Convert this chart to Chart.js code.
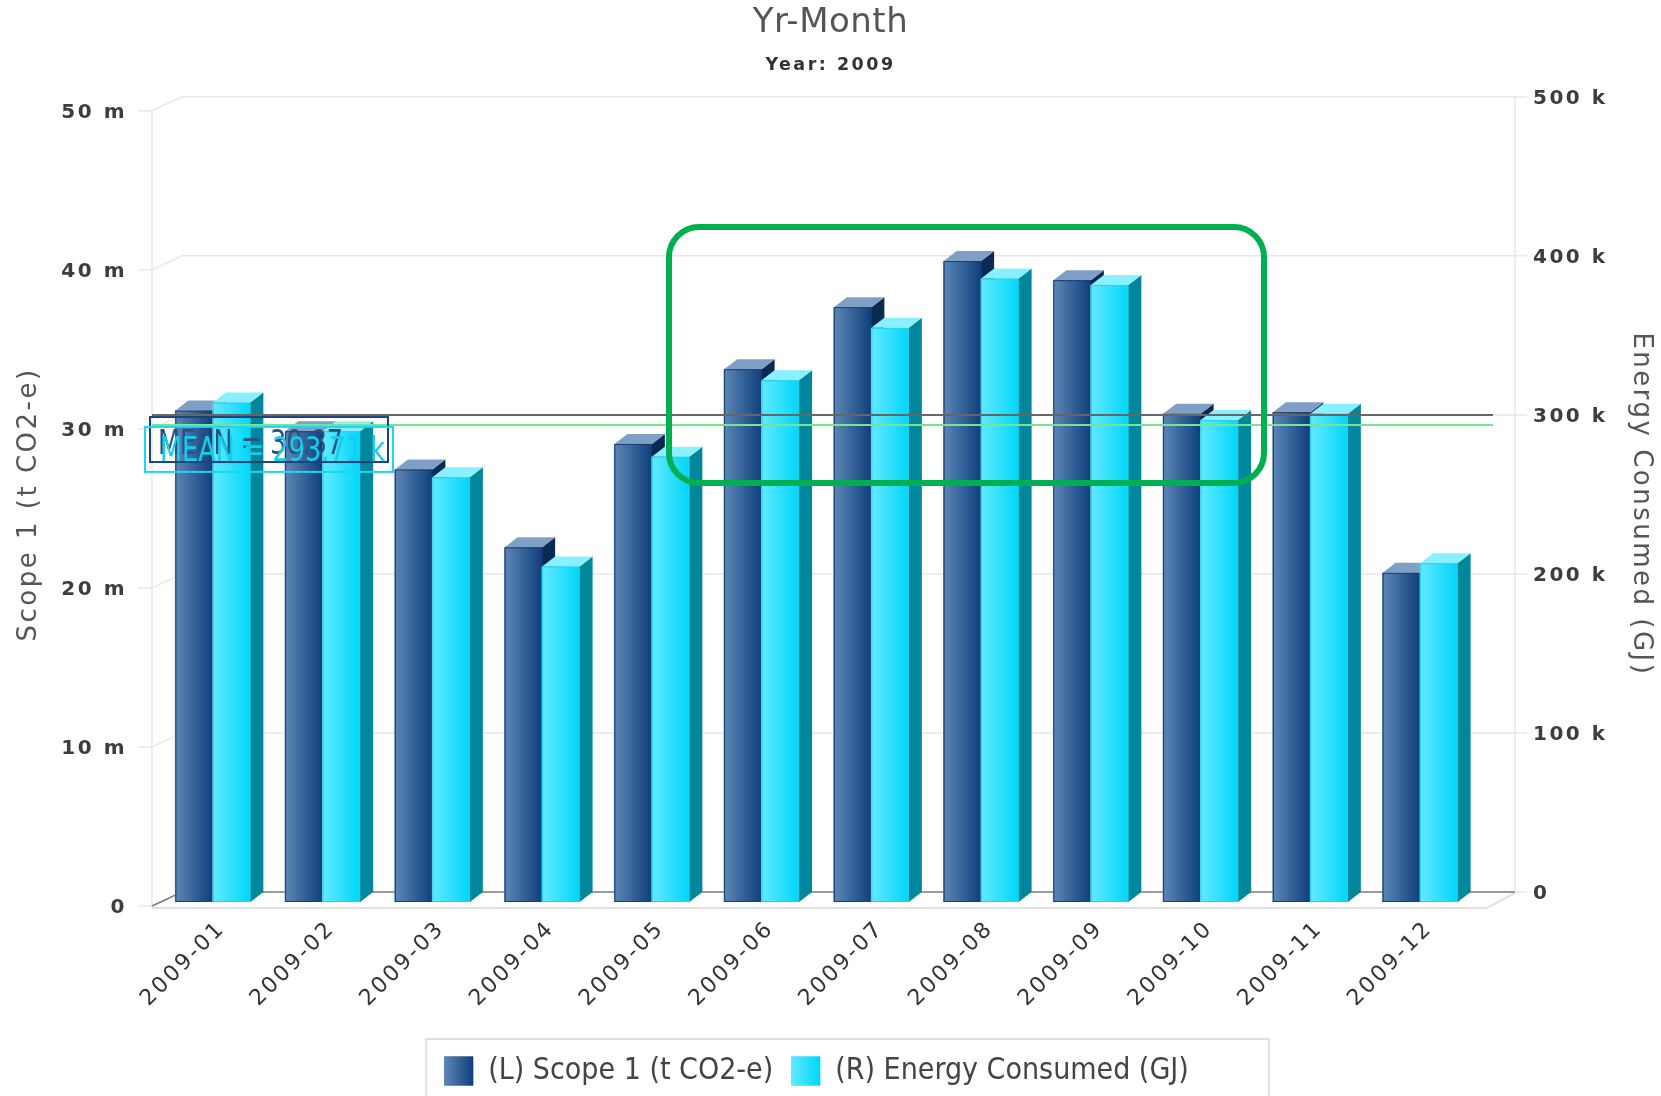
<!DOCTYPE html>
<html>
<head>
<meta charset="utf-8">
<title>Yr-Month</title>
<script src="https://cdn.jsdelivr.net/npm/chart.js@4.4.1/dist/chart.umd.min.js"></script>
<style>
  html, body { margin: 0; padding: 0; background: #ffffff; }
  #wrap { width: 1661px; height: 1096px; }
</style>
</head>
<body>
<div id="wrap"><canvas id="c" width="1661" height="1096"></canvas></div>
<script>
// Monthly figures for 2009
const months = ['2009-01', '2009-02', '2009-03', '2009-04', '2009-05', '2009-06',
                '2009-07', '2009-08', '2009-09', '2009-10', '2009-11', '2009-12'];
// (L) Scope 1, millions of t CO2-e
const scope1 = [30.9, 29.6, 27.2, 22.3, 28.8, 33.5, 37.4, 40.3, 39.1, 30.7, 30.8, 20.7];
// (R) Energy consumed, thousands of GJ
const energy = [314, 296, 267, 211, 280, 328, 361, 392, 388, 303, 307, 213];
// Reported means
const scope1Mean = 30.87;
const energyMean = 293.71;

const CONDENSED = "'DejaVu Sans Condensed', 'Liberation Sans Narrow', 'Liberation Sans', sans-serif";
const WIDE = "'DejaVu Sans', Verdana, sans-serif";
const SPACING = '2.5px';

// depth of each column and of the plot box
const BAR_DX = 13, BAR_DY = -10;
function box(ca) {
  return { fl: ca.left - 6, fr: ca.right + 12, fdy: 4, bl: ca.left + 24, br: ca.right + 40, bdy: -10 };
}

const faces = [
  { left: '#5d87b5', right: '#0e3e7c', top: '#7f9fc6', side: '#0a2a54', edge: '#163f73' },
  { left: '#62eaff', right: '#00d6fa', top: '#8af0ff', side: '#00879b', edge: '#22d2ee' }
];

// text squeezed horizontally to a given width
function fitText(ctx, text, x, y, size, width, color) {
  ctx.save();
  ctx.letterSpacing = '0px';
  ctx.font = size + 'px ' + WIDE;
  const w = ctx.measureText(text).width;
  ctx.translate(x, y);
  ctx.scale(width / w, 1);
  ctx.fillStyle = color;
  ctx.textBaseline = 'alphabetic';
  ctx.textAlign = 'left';
  ctx.fillText(text, 0, 0);
  ctx.restore();
}

// wrap a layout box so it draws with its own letter spacing
function withTracking(b, spacing) {
  if (!b || b._tracking) return;
  const draw = b.draw.bind(b);
  b.draw = function (area) {
    const c = this.ctx;
    const prev = c.letterSpacing;
    c.letterSpacing = spacing;
    draw(area);
    c.letterSpacing = prev;
  };
  b._tracking = spacing;
}

const frame3d = {
  id: 'frame3d',
  afterUpdate(chart) {
    withTracking(chart.legend, '0px');
    withTracking(chart.titleBlock, '0.5px');
  },
  beforeDraw(chart) {
    chart.ctx.letterSpacing = SPACING;
  },
  // plot box: side wall, back wall grid and floor
  beforeDatasetsDraw(chart) {
    const { ctx, chartArea: ca } = chart;
    const yL = chart.scales.yL;
    const f = box(ca);
    const y0 = yL.getPixelForValue(0);
    ctx.save();
    ctx.lineWidth = 1.5;
    ctx.strokeStyle = '#e8e8e8';
    yL.ticks.forEach(t => {
      const y = yL.getPixelForValue(t.value);
      ctx.beginPath();
      ctx.moveTo(f.fl - 14, y + f.fdy);
      ctx.lineTo(f.fl, y + f.fdy);
      if (t.value !== 0) {
        ctx.lineTo(f.bl, y + f.bdy);
        ctx.lineTo(f.br + 12, y + f.bdy);
      }
      ctx.stroke();
    });
    ctx.beginPath();
    ctx.moveTo(f.br, y0 + f.bdy); ctx.lineTo(f.br + 12, y0 + f.bdy);
    ctx.stroke();
    // front-left and back-right edges
    ctx.beginPath();
    ctx.moveTo(f.fl, ca.top + f.fdy); ctx.lineTo(f.fl, y0 + f.fdy + 2);
    ctx.moveTo(f.br, ca.top + f.bdy); ctx.lineTo(f.br, y0 + f.bdy);
    ctx.stroke();
    // front floor edge
    ctx.strokeStyle = '#e2e2e2';
    ctx.lineWidth = 2;
    ctx.beginPath();
    ctx.moveTo(f.fl, y0 + f.fdy + 2); ctx.lineTo(f.fr, y0 + f.fdy + 2); ctx.lineTo(f.br, y0 + f.bdy + 1);
    ctx.stroke();
    // back floor line
    ctx.strokeStyle = '#7b7b7b';
    ctx.lineWidth = 1.5;
    ctx.beginPath();
    ctx.moveTo(f.fl, y0 + f.fdy); ctx.lineTo(f.bl, y0 + f.bdy); ctx.lineTo(f.br, y0 + f.bdy);
    ctx.stroke();
    ctx.restore();
  },
  afterDatasetsDraw(chart) {
    const { ctx, chartArea: ca } = chart;
    // shaded front, side and top faces of each column, left series first
    ctx.save();
    [0, 1].forEach(di => {
      const st = faces[di];
      chart.getDatasetMeta(di).data.forEach(el => {
        const { x, y, base, width } = el.getProps(['x', 'y', 'base', 'width'], true);
        const l = x - width / 2, r = x + width / 2;
        const g = ctx.createLinearGradient(l, 0, r, 0);
        g.addColorStop(0, st.left);
        g.addColorStop(1, st.right);
        ctx.fillStyle = g;
        ctx.fillRect(l - 0.5, y, width + 1, base - y);
        ctx.fillStyle = st.side;
        ctx.beginPath();
        ctx.moveTo(r, y); ctx.lineTo(r + BAR_DX, y + BAR_DY);
        ctx.lineTo(r + BAR_DX, base + BAR_DY); ctx.lineTo(r, base);
        ctx.closePath(); ctx.fill();
        ctx.fillStyle = st.top;
        ctx.beginPath();
        ctx.moveTo(l, y); ctx.lineTo(l + BAR_DX, y + BAR_DY);
        ctx.lineTo(r + BAR_DX, y + BAR_DY); ctx.lineTo(r, y);
        ctx.closePath(); ctx.fill();
        ctx.strokeStyle = st.edge;
        ctx.lineWidth = 1;
        ctx.strokeRect(l + 0.5, y + 0.5, width - 1, base - y - 1);
      });
    });
    ctx.restore();

    // mean lines with their labels
    const f = box(ca);
    const yl = chart.scales.yL.getPixelForValue(scope1Mean) + f.fdy;
    const yr = chart.scales.yR.getPixelForValue(energyMean) + f.bdy;
    const x2 = ca.right + 18;
    ctx.save();
    ctx.lineWidth = 2;
    ctx.strokeStyle = '#666666';
    ctx.beginPath(); ctx.moveTo(f.fl, yl); ctx.lineTo(x2, yl); ctx.stroke();
    ctx.strokeStyle = '#78e48e';
    ctx.beginPath(); ctx.moveTo(f.fl, yr); ctx.lineTo(x2, yr); ctx.stroke();

    ctx.strokeStyle = '#1d4275';
    ctx.lineWidth = 2;
    ctx.strokeRect(f.fl - 2, yl + 2, 238, 45);
    fitText(ctx, 'MEAN = ' + scope1Mean.toFixed(2), f.fl + 6, yl + 39, 34, 185, '#2a4f82');
    ctx.strokeStyle = '#1ad6f4';
    ctx.strokeRect(f.fl - 7, yr + 2, 248, 45);
    fitText(ctx, 'MEAN = ' + energyMean.toFixed(2) + ' k', f.fl + 8, yr + 36, 34, 225, '#14cdec');
    ctx.restore();
  },
  afterDraw(chart) {
    const { ctx } = chart;
    const lg = chart.legend;
    ctx.save();
    if (lg && lg.legendHitBoxes && lg.legendHitBoxes.length) {
      const hb = lg.legendHitBoxes;
      const last = hb[hb.length - 1];
      const x1 = hb[0].left - 18;
      ctx.strokeStyle = '#e0e0e0';
      ctx.lineWidth = 2;
      ctx.strokeRect(x1, lg.top + 1, last.left + last.width + 80 - x1, 80);
      // shaded legend swatches
      hb.forEach((h, i) => {
        const st = faces[i];
        const top = h.top + (h.height - 29) / 2;
        const g = ctx.createLinearGradient(h.left, 0, h.left + 29, 0);
        g.addColorStop(0, st.left);
        g.addColorStop(1, st.right);
        ctx.fillStyle = g;
        ctx.fillRect(h.left, top, 29, 29);
      });
    }
    // highlight around the summer months
    ctx.strokeStyle = '#00b050';
    ctx.lineWidth = 6;
    ctx.beginPath();
    ctx.roundRect(669, 227, 595, 256, 30);
    ctx.stroke();
    ctx.restore();
  }
};

new Chart(document.getElementById('c'), {
  type: 'bar',
  data: {
    labels: months,
    datasets: [
      {
        label: '(L) Scope 1 (t CO2-e)',
        data: scope1,
        yAxisID: 'yL',
        backgroundColor: '#2c5a8f',
        borderWidth: 0
      },
      {
        label: '(R) Energy Consumed (GJ)',
        data: energy,
        yAxisID: 'yR',
        backgroundColor: '#1fe0ff',
        borderWidth: 0
      }
    ]
  },
  options: {
    responsive: false,
    animation: false,
    devicePixelRatio: 1,
    layout: { padding: 0 },
    datasets: { bar: { categoryPercentage: 0.683, barPercentage: 1.0 } },
    plugins: {
      title: {
        display: true,
        text: 'Yr-Month',
        color: '#555555',
        font: { family: WIDE, size: 34, weight: 'normal' },
        padding: { top: 3, bottom: 5 }
      },
      subtitle: {
        display: true,
        text: 'Year: 2009',
        color: '#333333',
        font: { family: WIDE, size: 17.5, weight: 'bold' },
        padding: { top: 6, bottom: 31 }
      },
      legend: {
        position: 'bottom',
        fullSize: false,
        labels: {
          color: '#444444',
          font: { family: CONDENSED, size: 30 },
          boxWidth: 29,
          boxHeight: 29,
          padding: 18
        }
      },
      tooltip: { enabled: false }
    },
    scales: {
      x: {
        grid: { display: false, drawTicks: false },
        border: { display: false },
        ticks: {
          color: '#333333',
          font: { family: WIDE, size: 22 },
          maxRotation: 45,
          minRotation: 45,
          autoSkip: false,
          padding: 14,
          labelOffset: 9
        },
        afterFit(scale) { scale.height = 136; }
      },
      yL: {
        position: 'left',
        min: 0,
        max: 50,
        grid: { display: false, drawTicks: false },
        border: { display: false },
        ticks: {
          stepSize: 10,
          color: '#3d3d3d',
          font: { family: WIDE, size: 20, weight: 'bold' },
          padding: 31,
          labelOffset: 6,
          callback: v => v === 0 ? '0' : v + ' m'
        },
        title: {
          display: true,
          text: 'Scope 1 (t CO2-e)',
          color: '#555555',
          font: { family: WIDE, size: 26 },
          padding: { top: 14, bottom: 0 }
        },
        afterFit(scale) { scale.width = 158; }
      },
      yR: {
        position: 'right',
        min: 0,
        max: 500,
        grid: { display: false, drawTicks: false },
        border: { display: false },
        ticks: {
          stepSize: 100,
          color: '#3d3d3d',
          font: { family: WIDE, size: 20, weight: 'bold' },
          padding: 58,
          labelOffset: -8,
          callback: v => v === 0 ? '0' : v + ' k'
        },
        title: {
          display: true,
          text: 'Energy Consumed (GJ)',
          color: '#555555',
          font: { family: WIDE, size: 26 },
          padding: { top: 5, bottom: 0 }
        },
        afterFit(scale) { scale.width = 186; }
      }
    }
  },
  plugins: [frame3d]
});
</script>
</body>
</html>
